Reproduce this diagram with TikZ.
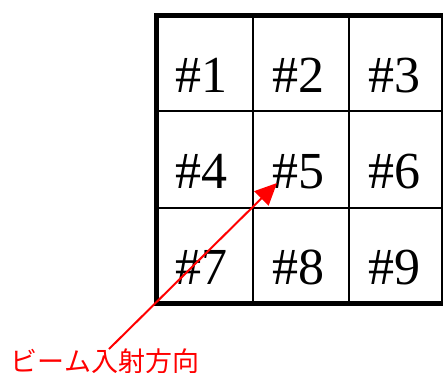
\documentclass[tikz,border=0pt]{standalone}
\usepackage{fontspec}
\setmainfont{Liberation Serif}
\newfontfamily\jpfont{Noto Sans CJK JP}
\usetikzlibrary{arrows.meta}
\begin{document}
\begin{tikzpicture}[x=1bp,y=-1bp,
  thinline/.style={line width=2bp,black},
  thickline/.style={line width=5bp,black,line cap=rect},
  cellnum/.style={anchor=base,inner sep=0pt,font=\fontsize{52bp}{56bp}\selectfont},
  beam/.style={red,line width=2bp,-{Triangle[length=22bp,width=20bp]}},
  beamlabel/.style={anchor=base,inner sep=0pt,text=red,font=\jpfont\fontsize{27bp}{30bp}\selectfont}]
\useasboundingbox (0,0) rectangle (443,372);
% inner lines
\draw[thinline] (253,15.5) -- (253,303.5);
\draw[thinline] (349,15.5) -- (349,303.5);
\draw[thinline] (156.5,111) -- (443,111);
\draw[thinline] (156.5,207.5) -- (443,207.5);
\draw[thinline] (442,15.5) -- (442,303.5);
% outer thick border
\draw[thickline] (443,15.5) -- (156.5,15.5) -- (156.5,303.5) -- (443,303.5);
% numbers
\node[cellnum] (c1) at (201,92) {\#1};
\node[cellnum] (c2) at (298,92) {\#2};
\node[cellnum] (c3) at (394,92) {\#3};
\node[cellnum] (c4) at (201,188) {\#4};
\node[cellnum] (c5) at (298,188) {\#5};
\node[cellnum] (c6) at (394,188) {\#6};
\node[cellnum] (c7) at (201,284) {\#7};
\node[cellnum] (c8) at (298,284) {\#8};
\node[cellnum] (c9) at (394,284) {\#9};
% label and arrow
\node[beamlabel] (lbl) at (105,371) {ビーム入射方向};
\coordinate (tail) at (109,349);
\coordinate (tip) at (277,183);
\draw[beam] (tail) -- (tip);
\end{tikzpicture}
\end{document}
